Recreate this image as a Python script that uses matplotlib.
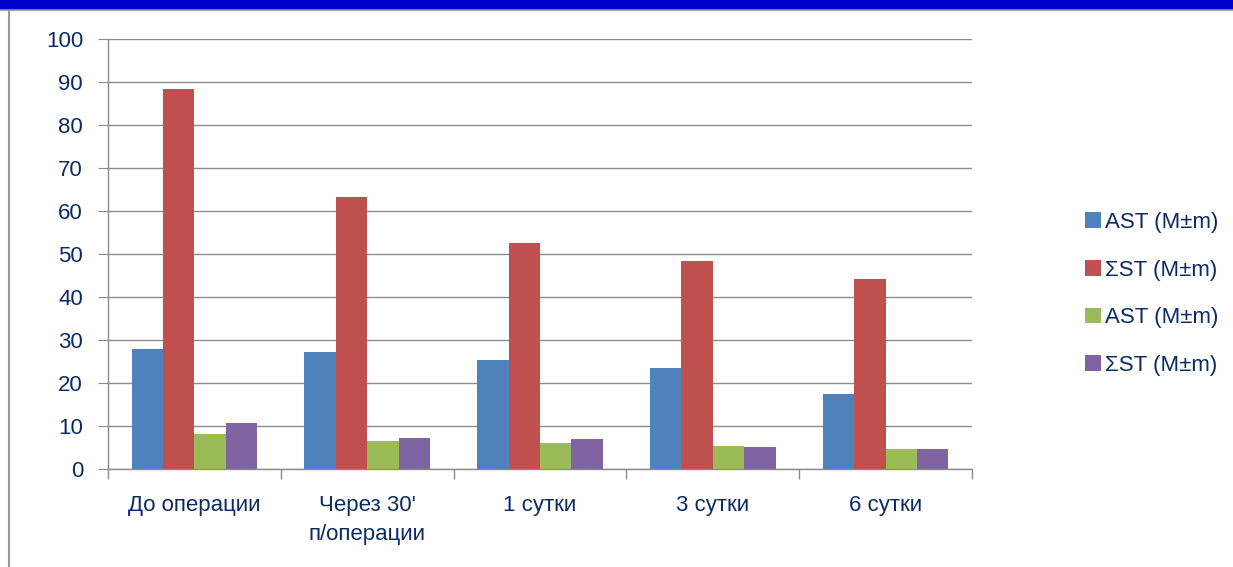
import matplotlib.pyplot as plt
import numpy as np
from matplotlib.patches import Rectangle
from matplotlib.lines import Line2D

# categories and series values
categories = ["До операции", "Через 30'\nп/операции", "1 сутки", "3 сутки", "6 сутки"]
series_names = ["AST (M±m)", "ΣST (M±m)", "AST (M±m)", "ΣST (M±m)"]
ast_1 = [27.8, 27.3, 25.4, 23.6, 17.4]
sst_1 = [88.3, 63.3, 52.6, 48.4, 44.2]
ast_2 = [8.2, 6.5, 6.1, 5.4, 4.6]
sst_2 = [10.8, 7.3, 7.0, 5.2, 4.6]
colors = ["#4f81bd", "#c0504d", "#9bbb59", "#8064a2"]

text_color = "#0b2a66"
plt.rcParams['font.family'] = ['Liberation Sans', 'DejaVu Sans']

fig = plt.figure(figsize=(12.33, 5.67), dpi=100)
ax = fig.add_axes([108 / 1233, 1 - 469 / 567, (972 - 108) / 1233, (469 - 39) / 567])

x = np.arange(len(categories))
w = 1 / 5.5
all_series = [ast_1, sst_1, ast_2, sst_2]
for i, vals in enumerate(all_series):
    ax.bar(x + (i - 1.5) * w, vals, width=w, color=colors[i], label=series_names[i], zorder=3)

ax.set_xlim(-0.5, len(categories) - 0.5)
ax.set_ylim(0, 100)
ax.set_yticks(range(0, 101, 10))
ax.grid(axis='y', color='#8c8c8c', linewidth=1, zorder=0)

ax.set_xticks(x)
ax.set_xticklabels(categories, fontsize=16, color=text_color, linespacing=1.5)
ax.tick_params(axis='x', length=0, pad=19)
ax.set_xticks(np.arange(-0.5, len(categories), 1), minor=True)
ax.tick_params(axis='x', which='minor', length=7, color='#8c8c8c', width=1)
ax.tick_params(axis='y', labelsize=16, labelcolor=text_color, length=7, color='#8c8c8c', pad=11)

for s in ['top', 'right']:
    ax.spines[s].set_visible(False)
for s in ['left', 'bottom']:
    ax.spines[s].set_color('#8c8c8c')
    ax.spines[s].set_linewidth(1)

leg = fig.legend(loc='center left', bbox_to_anchor=(1065 / 1233, 1 - 294 / 567),
                 frameon=False, fontsize=16, handlelength=0.7, handleheight=0.7,
                 handletextpad=0.2, labelspacing=1.2)
for t in leg.get_texts():
    t.set_color(text_color)

# decorative frame: blue band on top, grey rules
fig.patches.append(Rectangle((0, 1 - 8 / 567), 1, 8 / 567, transform=fig.transFigure,
                             color='#0000c8', zorder=10))
fig.lines.append(Line2D([0, 1], [1 - 9.5 / 567, 1 - 9.5 / 567], transform=fig.transFigure,
                        color='#9a9a9a', linewidth=1.5))
fig.lines.append(Line2D([8.5 / 1233, 8.5 / 1233], [0, 1 - 9.5 / 567], transform=fig.transFigure,
                        color='#9a9a9a', linewidth=1.5))

fig.savefig("out.png", dpi=100)
